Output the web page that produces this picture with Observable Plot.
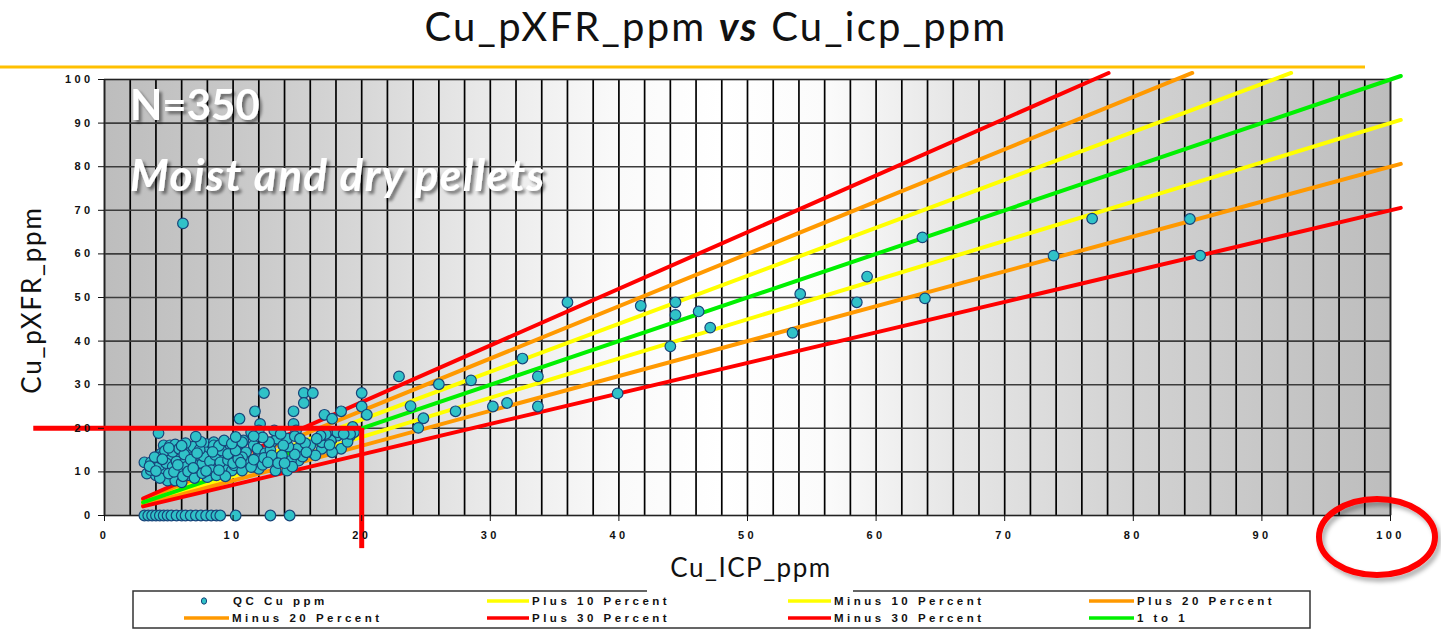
<!DOCTYPE html>
<html>
<head>
<meta charset="utf-8">
<script src="https://cdn.jsdelivr.net/npm/d3@7"></script>
<script src="https://cdn.jsdelivr.net/npm/@observablehq/plot@0.6"></script>
<style>
  html, body { margin: 0; padding: 0; background: #fff; }
  #page { position: relative; width: 1441px; height: 633px; overflow: hidden; }
  #chart, #overlay { position: absolute; left: 0; top: 0; }
  #chart g[aria-label="x-axis tick label"] text,
  #chart g[aria-label="y-axis tick label"] text { letter-spacing: 3.4px; }
  #chart g[aria-label="highlight"] { filter: drop-shadow(3px 3px 2px rgba(0,0,0,0.35)); }
  #overlay .legend-text { font-family: "Liberation Sans", Arial, sans-serif; font-weight: bold; font-size: 11.5px; letter-spacing: 3.5px; fill: #111; }
</style>
</head>
<body>
<div id="page"></div>
<script>
// ---------------- DATA ----------------
const title = ["Cu_pXFR_ppm", "vs", "Cu_icp_ppm"];
const xLabel = "Cu_ICP_ppm";
const yLabel = "Cu_pXFR_ppm";
const noteCount = "N=350";
const noteSample = "Moist and dry pellets";
const pointSeriesName = "QC Cu ppm";

const xTicks = [0, 10, 20, 30, 40, 50, 60, 70, 80, 90, 100];
const yTicks = [0, 10, 20, 30, 40, 50, 60, 70, 80, 90, 100];

// reference lines (y = slope * x)
const refNames  = ["Plus 10 Percent", "Minus 10 Percent", "Plus 20 Percent", "Minus 20 Percent", "Plus 30 Percent", "Minus 30 Percent", "1 to 1"];
const refSlopes = [1.1, 0.9, 1.2, 0.8, 1.3, 0.7, 1.0];
const refColors = ["#ffff00", "#ffff00", "#ff9900", "#ff9900", "#ff0000", "#ff0000", "#00f000"];
const refStartX = 3;

// highlighted 20 ppm level (hand-drawn red bars)
const highlightLevel = 20;

// QC points [Cu_ICP_ppm, Cu_pXFR_ppm]
const qcHigh = [
  [6.1,67.0],[36.0,48.9],[41.7,48.1],[44.4,48.9],[44.4,46.0],[46.2,46.8],[47.1,43.1],[44.0,38.8],
  [54.1,50.8],[58.5,48.9],[59.3,54.8],[53.5,41.9],[63.8,49.8],[63.6,63.8],[76.8,68.1],[84.4,68.0],
  [73.8,59.6],[85.2,59.6],[32.5,36.0],[33.7,31.9],[28.5,31.0],[26.0,30.1],[22.9,31.9],[23.8,25.1],
  [24.8,22.3],[24.4,20.1],[27.3,23.9],[30.2,25.0],[31.3,25.8],[33.7,25.0],[39.9,28.0]
];
const qcUpper = [
  [12.4,28.1],[15.5,28.1],[16.2,28.1],[20.0,28.1],[15.5,25.8],[20.0,25.0],[11.7,23.9],[14.7,23.9],
  [18.4,23.9],[17.1,23.1],[20.4,23.1],[17.7,22.2],[10.5,22.2],[12.1,21.0],[14.7,21.0],[19.3,20.3],
  [19.4,19.1],[18.1,19.1],[17.3,19.1],[4.2,18.9],[7.1,18.1],[14.9,19.5],[13.2,19.5],[12.0,19.5],
  [11.4,19.1],[13.7,18.7],[19.1,18.7],[18.6,18.7],[17.2,18.7],[16.8,18.3],[12.3,17.9],[11.6,18.2],
  [10.2,18.0],[14.8,18.2],[15.2,17.6],[16.5,17.6]
];
const qcRight = [
  [18.4,15.3],[16.9,15.3],[16.4,13.8],[15.0,15.3],[16.0,16.1],[16.9,16.8],[17.7,14.5],[15.1,12.6],
  [14.5,12.6],[17.3,18.3],[18.1,18.3],[17.6,17.2],[19.1,18.3],[18.9,16.9],[17.5,16.2],[15.6,16.6],
  [15.4,13.5],[15.7,14.5],[14.8,14.0],[14.3,15.8],[13.4,17.6],[14.2,17.6],[12.8,16.8],[13.9,16.1],
  [13.0,13.8],[13.8,13.8],[12.7,12.2],[13.3,10.3],[14.2,10.3],[14.6,11.2],[13.5,12.0],[14.0,12.0]
];
const qcMidLeft = [
  [10.8,17.2],[11.6,16.1],[12.0,10.7],[11.1,12.2],[11.9,13.4],[11.0,14.5],[11.9,15.3],[10.7,13.4],
  [10.1,11.5],[10.7,10.3],[11.4,11.1],[10.7,16.8],[13.0,16.8],[9.3,17.2],[12.3,11.6],[12.5,14.3],
  [12.9,15.0],[12.4,13.2],[11.6,12.8],[10.0,12.0],[10.4,13.0],[10.6,12.1],[10.2,14.9],[9.9,16.5]
];
const qcLeft = [
  [4.6,16.1],[5.1,16.1],[5.5,16.3],[7.9,16.4],[8.5,16.8],[9.8,15.7],[3.1,12.2],[3.6,12.2],
  [4.1,12.6],[3.3,9.6],[4.0,9.2],[4.6,10.7],[5.1,13.4],[5.9,13.0],[5.9,10.7],[6.6,14.9],
  [6.6,9.2],[7.2,12.6],[7.3,10.3],[8.0,13.0],[8.4,15.3],[8.8,11.5],[9.4,13.4],[9.8,10.7],
  [10.3,11.5],[10.8,14.2],[11.1,11.9],[4.9,8.0],[5.5,8.0],[6.0,7.6],[8.0,8.8],[9.1,9.6],
  [4.4,14.2],[9.0,13.4],[9.3,11.1],[9.9,10.3],[8.0,11.1],[8.5,16.1],[7.9,14.5],[3.8,11.0],
  [4.3,11.5],[4.8,12.0],[5.3,11.2],[5.6,12.4],[6.2,12.1],[6.4,11.2],[6.8,13.2],[7.0,11.6],
  [7.6,11.9],[7.7,13.6],[8.2,12.4],[8.6,13.9],[9.0,12.2],[9.6,12.7],[4.2,13.3],[4.7,14.8],
  [5.3,14.6],[5.8,15.3],[6.2,14.0],[6.9,15.8],[7.4,15.1],[7.5,16.9],[9.1,14.9],[9.6,14.1],
  [3.6,10.4],[4.3,8.6],[5.0,9.6],[5.4,10.0],[6.1,9.0],[6.5,10.1],[7.0,8.6],[7.6,9.7],
  [8.3,10.4],[8.7,9.2],[9.4,9.0],[6.3,16.6],[3.9,13.4],[4.5,12.9],[5.7,11.6],[6.7,12.8],
  [7.9,10.2],[8.9,10.4],[8.9,16.0],[5.0,15.5],[6.0,16.0],[7.2,14.3],[3.5,11.3],[4.0,10.2],
  [6.9,10.9],[8.4,14.6]
];
const qcZero = [
  [3.1,0],[3.4,0],[3.7,0],[4.0,0],[4.3,0],[4.6,0],[4.9,0],[5.2,0],[5.6,0],[6.0,0],[6.3,0],
  [6.7,0],[7.1,0],[7.5,0],[7.9,0],[8.3,0],[8.7,0],[9.0,0],[10.2,0],[12.9,0],[14.4,0]
];

// ---------------- BUILD ----------------
const points = [...qcZero, ...qcLeft, ...qcMidLeft, ...qcRight, ...qcUpper, ...qcHigh]
  .map(([x, y]) => ({x, y}));

const lineXMax = 100.8, lineYCap = 101.5;
const refLines = refNames.map((name, i) => {
  const s = refSlopes[i];
  const xEnd = Math.min(lineXMax, lineYCap / s);
  return {name, color: refColors[i], data: [{x: refStartX, y: refStartX * s}, {x: xEnd, y: xEnd * s}]};
});

const xGrid = d3.range(0, 101, 2);

const bgStops = [[0,"#bdbdbd"],[0.1,"#c8c8c8"],[0.2,"#d7d7d7"],[0.3,"#eaeaea"],[0.4,"#fafafa"],[0.48,"#ffffff"],[0.56,"#fbfbfb"],[0.66,"#e6e6e6"],[0.8,"#d2d2d2"],[1,"#bdbdbd"]];
const defsMark = () => {
  const defs = d3.create("svg:defs");
  const g = defs.append("linearGradient").attr("id", "bgGrad").attr("x1", 0).attr("x2", 1).attr("y1", 0).attr("y2", 0);
  bgStops.forEach(([o, c]) => g.append("stop").attr("offset", o).attr("stop-color", c));
  return defs.node();
};

const W = 1441, H = 633;
const chart = Plot.plot({
  width: W, height: H,
  marginLeft: 104, marginRight: 51, marginTop: 79, marginBottom: 118,
  x: {domain: [0, 100], label: null},
  y: {domain: [0, 100], label: null},
  style: {background: "transparent", overflow: "visible", fontFamily: "'Liberation Sans', Arial, sans-serif"},
  marks: [
    defsMark,
    Plot.frame({fill: "url(#bgGrad)"}),
    Plot.ruleX(xGrid, {stroke: "#000", strokeWidth: 1.7}),
    Plot.ruleY(yTicks, {stroke: "#3c3c3c", strokeWidth: 1.6}),
    Plot.frame({stroke: "#222", strokeWidth: 1.2}),
    ...refLines.map(r => Plot.line(r.data, {x: "x", y: "y", stroke: r.color, strokeWidth: 4})),
    Plot.dot(points, {x: "x", y: "y", r: 5.3, fill: "#30c2c8", stroke: "#17457a", strokeWidth: 1.2}),
    Plot.ruleY([highlightLevel], {x1: -5.5, x2: highlightLevel, stroke: "#ff0000", strokeWidth: 5, ariaLabel: "highlight"}),
    Plot.ruleX([highlightLevel], {y1: highlightLevel, y2: -7.6, stroke: "#ff0000", strokeWidth: 5, ariaLabel: "highlight"}),
    Plot.axisX(xTicks, {tickSize: 6, tickPadding: 10, fontSize: 11, fontWeight: "bold", color: "#111", label: null}),
    Plot.axisY(yTicks, {tickSize: 6, tickPadding: 5, fontSize: 11, fontWeight: "bold", color: "#111", label: null})
  ]
});
chart.id = "chart";
const page = document.getElementById("page");
page.appendChild(chart);

// ---------------- OVERLAY (titles, notes, legend) ----------------
const ov = d3.select(page).append("svg").attr("id", "overlay").attr("width", W).attr("height", H);
const defs = ov.append("defs");
const f = defs.append("filter").attr("id", "txtShadow").attr("x", "-10%").attr("y", "-20%").attr("width", "130%").attr("height", "150%");
f.append("feDropShadow").attr("dx", 3).attr("dy", 3).attr("stdDeviation", 1.5).attr("flood-color", "#000").attr("flood-opacity", 0.45);
const f2 = defs.append("filter").attr("id", "softShadow").attr("x", "-10%").attr("y", "-10%").attr("width", "130%").attr("height", "130%");
f2.append("feDropShadow").attr("dx", 3).attr("dy", 4).attr("stdDeviation", 2).attr("flood-color", "#000").attr("flood-opacity", 0.3);

const t = ov.append("text").attr("x", 716).attr("y", 41).attr("text-anchor", "middle")
  .attr("font-family", "Lato, 'Open Sans', sans-serif").attr("font-size", 40).attr("letter-spacing", 2.2).attr("fill", "#111");
t.append("tspan").text(title[0] + " ");
t.append("tspan").attr("font-weight", "bold").attr("font-style", "italic").text(title[1]);
t.append("tspan").text(" " + title[2]);

ov.append("rect").attr("x", 0).attr("y", 65.5).attr("width", 1365).attr("height", 3).attr("fill", "#ffc000");

ov.append("text").attr("x", 130).attr("y", 120).attr("font-family", "Lato, sans-serif").attr("font-weight", "bold")
  .attr("font-size", 42).attr("fill", "#fff").attr("filter", "url(#txtShadow)").text(noteCount);
ov.append("text").attr("x", 130).attr("y", 191).attr("font-family", "Lato, sans-serif").attr("font-weight", "bold")
  .attr("font-style", "italic").attr("font-size", 44).attr("letter-spacing", 1.4).attr("fill", "#fff").attr("filter", "url(#txtShadow)").text(noteSample);

ov.append("text").attr("x", 751).attr("y", 577).attr("text-anchor", "middle").attr("font-family", "Lato, sans-serif")
  .attr("font-size", 26).attr("letter-spacing", 1.5).attr("fill", "#111").text(xLabel);
ov.append("text").attr("transform", "translate(41,300) rotate(-90)").attr("text-anchor", "middle").attr("font-family", "Lato, sans-serif")
  .attr("font-size", 26).attr("letter-spacing", 1.8).attr("fill", "#111").text(yLabel);

ov.append("ellipse").attr("cx", 1377).attr("cy", 537).attr("rx", 58).attr("ry", 38)
  .attr("fill", "none").attr("stroke", "#ff0000").attr("stroke-width", 6).attr("filter", "url(#softShadow)");

// legend
const lg = ov.append("g");
lg.append("rect").attr("x", 133).attr("y", 591).attr("width", 1177).attr("height", 37)
  .attr("fill", "#fff").attr("stroke", "#333").attr("stroke-width", 1.5);
lg.append("rect").attr("x", 647).attr("y", 589).attr("width", 206).attr("height", 4).attr("fill", "#fff");
const legendItems = [{name: pointSeriesName, type: "dot"}, ...refNames.map((n, i) => ({name: n, type: "line", color: refColors[i]}))];
const colX = [[184, 229], [487, 529], [788, 831], [1089, 1134]];
const rowY = [601, 618];
legendItems.forEach((it, i) => {
  const row = Math.floor(i / 4), col = i % 4;
  const [x0, x1] = colX[col], y = rowY[row];
  if (it.type === "dot") {
    lg.append("ellipse").attr("cx", 204).attr("cy", y).attr("rx", 2.6).attr("ry", 3.2)
      .attr("fill", "#30c2c8").attr("stroke", "#17457a").attr("stroke-width", 1);
    lg.append("text").attr("class", "legend-text").attr("x", 233).attr("y", y + 4).text(it.name);
  } else {
    lg.append("line").attr("x1", x0).attr("x2", x1).attr("y1", y).attr("y2", y)
      .attr("stroke", it.color).attr("stroke-width", 3.5);
    lg.append("text").attr("class", "legend-text").attr("x", x1 + 3).attr("y", y + 4).text(it.name);
  }
});
</script>
</body>
</html>
